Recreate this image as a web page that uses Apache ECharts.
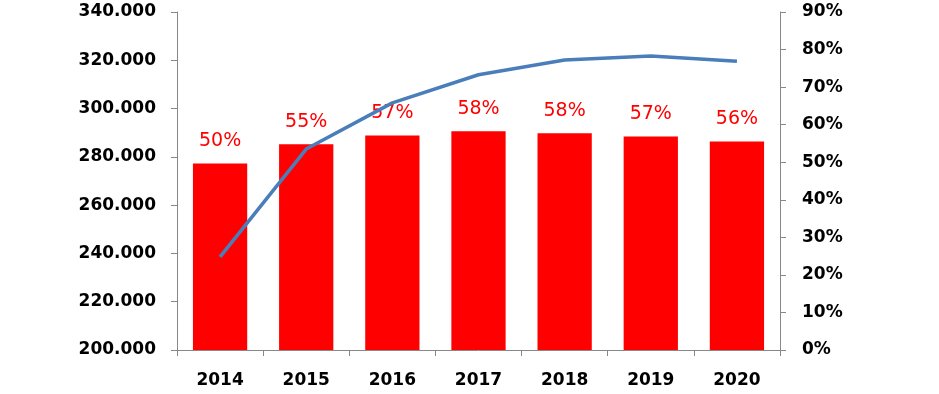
<!DOCTYPE html>
<html>
<head>
<meta charset="utf-8">
<script src="https://cdn.jsdelivr.net/npm/echarts@6/dist/echarts.min.js"></script>
<style>html,body{margin:0;padding:0;background:#fff;}#c{width:939px;height:394px;}</style>
</head>
<body>
<div id="c"></div>
<script>
var categories = ['2014', '2015', '2016', '2017', '2018', '2019', '2020'];
var barValues = [277300, 285200, 288800, 290600, 289800, 288400, 286400];
var barLabels = ['50%', '55%', '57%', '58%', '58%', '57%', '56%'];
var lineValues = [24.8, 53.5, 65.8, 73.3, 77.2, 78.3, 76.9];

function fmtThousands(v) {
  return String(Math.round(v)).replace(/\B(?=(\d{3})+(?!\d))/g, '.');
}

var chart = echarts.init(document.getElementById('c'), null, {renderer: 'canvas'});
var axisLabelStyle = {color: '#000', fontFamily: 'DejaVu Sans', fontWeight: 'bold', fontSize: 17};
chart.setOption({
  animation: false,
  grid: {left: 177, right: 159, top: 12, bottom: 44, containLabel: false},
  xAxis: {
    type: 'category',
    data: categories,
    boundaryGap: true,
    axisLine: {lineStyle: {color: '#888', width: 1}},
    axisTick: {show: true, alignWithLabel: false, length: 6, lineStyle: {color: '#888'}},
    axisLabel: Object.assign({margin: 22}, axisLabelStyle)
  },
  yAxis: [{
    type: 'value',
    min: 200000, max: 340000, interval: 20000,
    position: 'left',
    axisLine: {show: true, lineStyle: {color: '#888', width: 1}},
    axisTick: {show: true, length: 6, lineStyle: {color: '#888'}},
    splitLine: {show: false},
    axisLabel: Object.assign({margin: 21, formatter: function (v) { return fmtThousands(v); }}, axisLabelStyle)
  }, {
    type: 'value',
    min: 0, max: 90, interval: 10,
    position: 'right',
    axisLine: {show: true, lineStyle: {color: '#888', width: 1}},
    axisTick: {show: true, length: 6, lineStyle: {color: '#888'}},
    splitLine: {show: false},
    axisLabel: Object.assign({margin: 22, formatter: function (v) { return v + '%'; }}, axisLabelStyle)
  }],
  series: [{
    type: 'bar',
    data: barValues,
    yAxisIndex: 0,
    barCategoryGap: '37%',
    itemStyle: {color: '#ff0000'},
    label: {
      show: true,
      position: 'top',
      distance: 13,
      color: '#ff0000',
      fontFamily: 'DejaVu Sans',
      fontSize: 19,
      formatter: function (p) { return barLabels[p.dataIndex]; }
    },
    z: 2
  }, {
    type: 'line',
    data: lineValues,
    yAxisIndex: 1,
    showSymbol: false,
    symbol: 'none',
    lineStyle: {color: '#4a7ebb', width: 3.5},
    z: 3
  }]
});
</script>
</body>
</html>
